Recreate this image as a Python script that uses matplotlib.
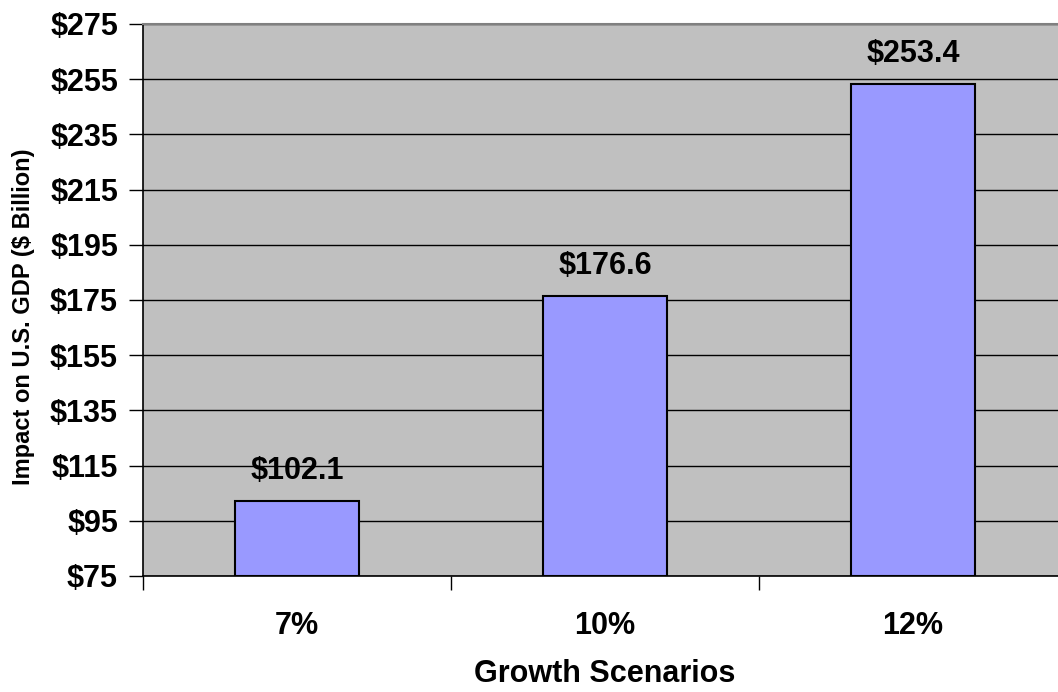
import matplotlib.pyplot as plt
import numpy as np

scenarios = ['7%', '10%', '12%']
impact = [102.1, 176.6, 253.4]
yticks = list(range(75, 276, 20))

plt.rcParams['font.family'] = 'Liberation Sans'
plt.rcParams['font.weight'] = 'bold'

fig = plt.figure(figsize=(10.58, 6.92), dpi=100)
ax = fig.add_axes([143 / 1058, 1 - 576 / 692, 924 / 1058, (576 - 24) / 692])
ax.set_facecolor('#C0C0C0')

x = np.arange(len(scenarios))
ax.bar(x, [v - 75 for v in impact], 0.4, bottom=75, color='#9999FF',
       edgecolor='black', linewidth=1.5, zorder=3)

for xi, v in zip(x, impact):
    ax.text(xi, v + 8, f'${v:.1f}', ha='center', va='baseline', fontsize=22,
            fontweight='bold', zorder=4)

ax.set_xlim(-0.5, 2.5)
ax.set_ylim(75, 275)
ax.set_yticks(yticks)
ax.set_yticklabels([f'${t}' for t in yticks], fontsize=22, fontweight='bold')
ax.yaxis.grid(True, color='black', linewidth=1)
ax.set_axisbelow(True)

ax.set_xticks(x)
ax.set_xticklabels(scenarios, fontsize=22, fontweight='bold')
ax.tick_params(axis='x', which='major', length=0, pad=25)
ax.set_xticks([-0.5, 0.5, 1.5, 2.5], minor=True)
ax.tick_params(axis='x', which='minor', length=10, width=1, direction='out')
ax.tick_params(axis='y', length=10, width=1, direction='out', pad=8)

ax.spines['top'].set_color('#808080')
ax.spines['top'].set_linewidth(1.5)
ax.spines['right'].set_visible(False)
ax.spines['left'].set_linewidth(1.2)
ax.spines['bottom'].set_linewidth(1.2)

ax.set_xlabel('Growth Scenarios', fontsize=22, fontweight='bold', labelpad=13)
ax.set_ylabel('Impact on U.S. GDP ($ Billion)', fontsize=17, fontweight='bold',
              labelpad=11, y=0.47)

plt.savefig('out.png', dpi=100)
